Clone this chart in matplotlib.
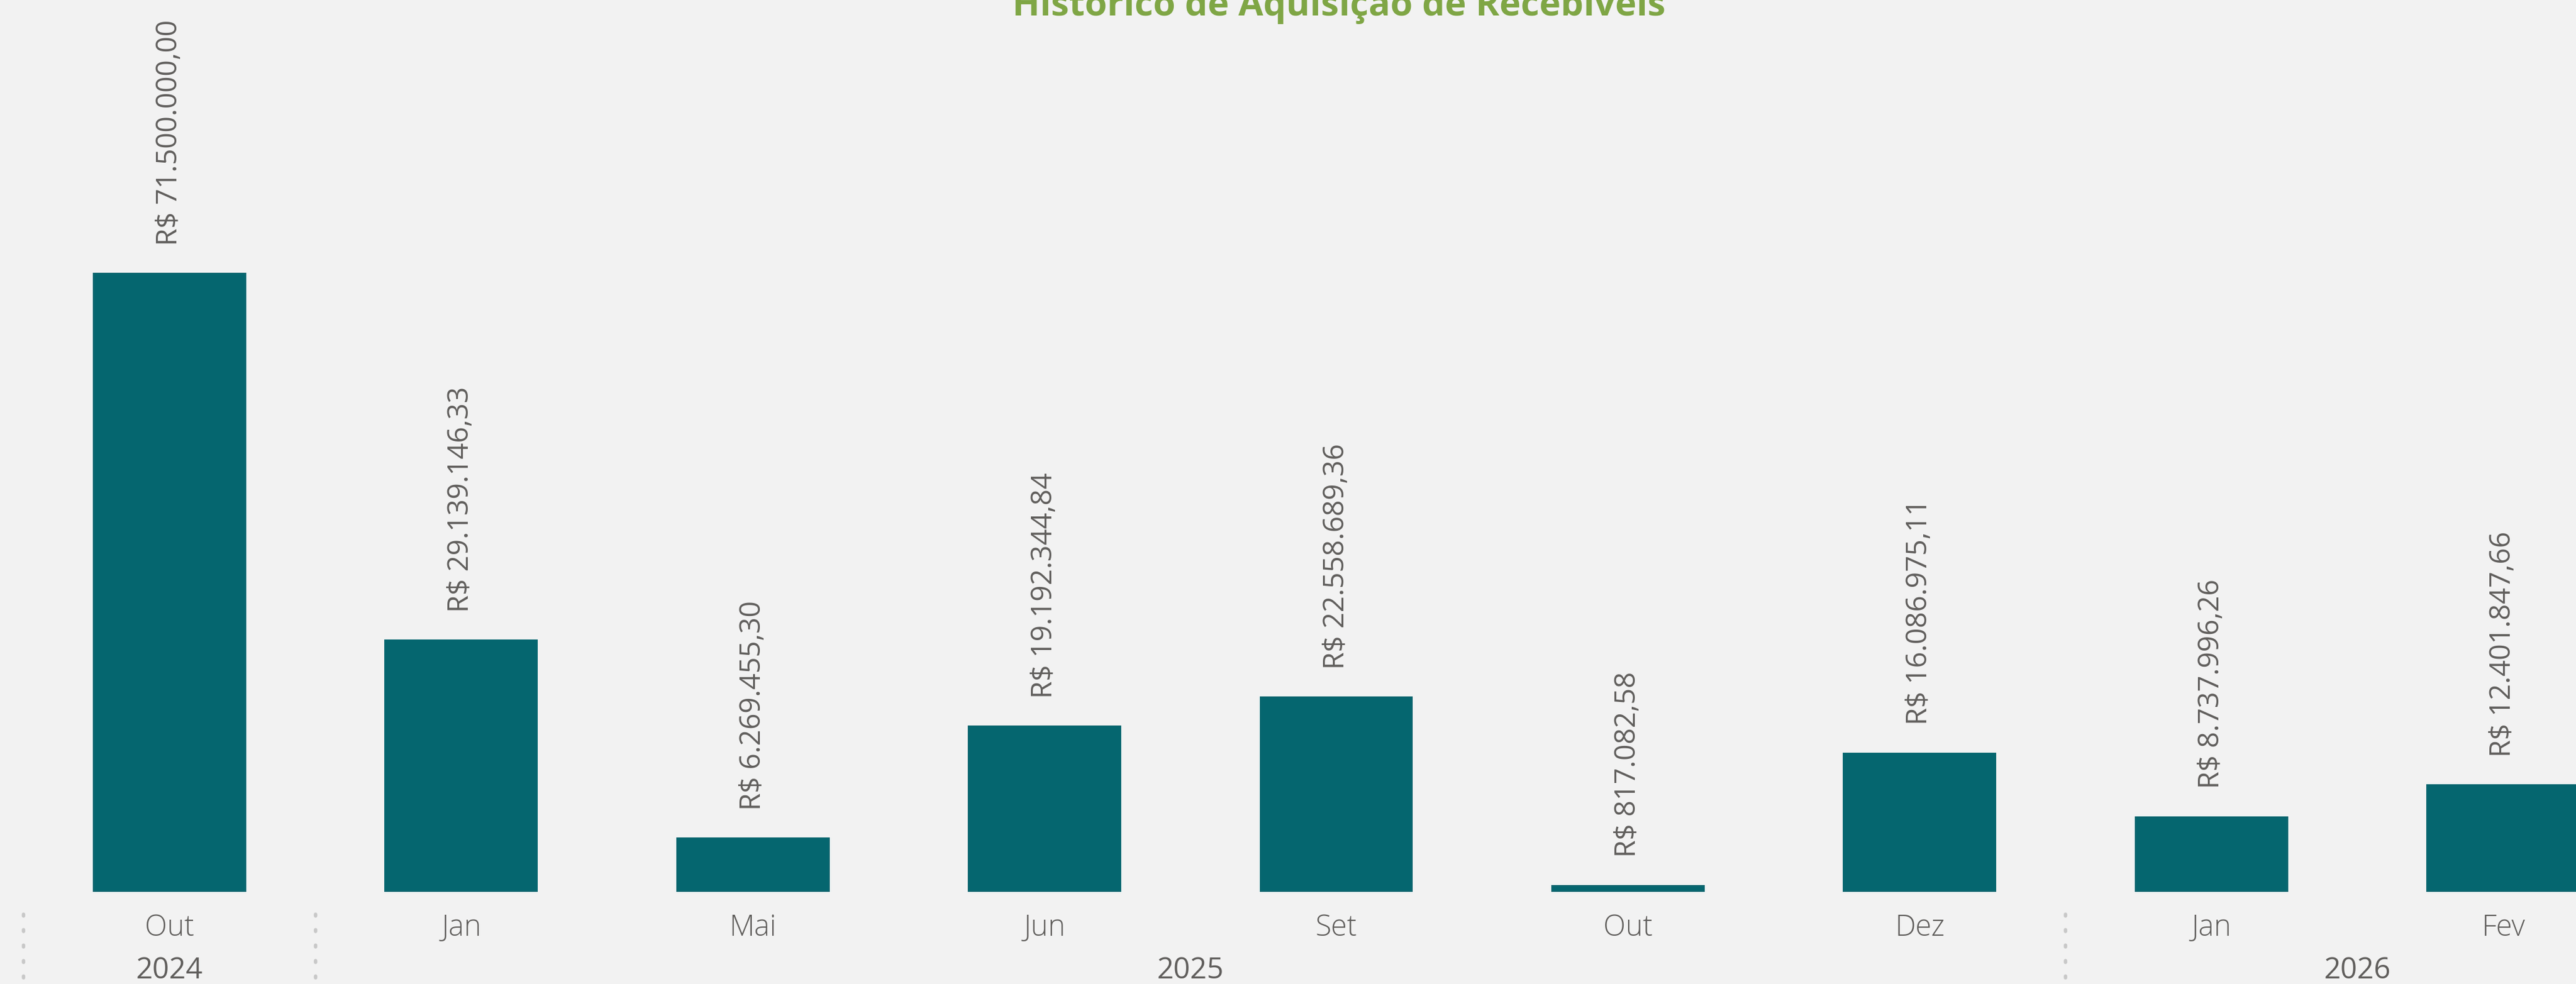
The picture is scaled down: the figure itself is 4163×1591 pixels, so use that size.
import matplotlib.pyplot as plt

# dados
meses = ["Out", "Jan", "Mai", "Jun", "Set", "Out", "Dez", "Jan", "Fev"]
valores = [71500000.00, 29139146.33, 6269455.30, 19192344.84, 22558689.36,
           817082.58, 16086975.11, 8737996.26, 12401847.66]
anos = ["2024", "2025", "2026"]
anos_pos = [0, 3.5, 7.5]
separadores = [-0.5, 0.5, 6.5]

bg = "#F2F2F2"
cor_barra = "#05666F"
cor_texto = "#605E5C"
cor_titulo = "#7FA645"

plt.rcParams["font.family"] = ["Open Sans", "DejaVu Sans"]


def brl(v):
    s = f"{v:,.2f}".replace(",", "X").replace(".", ",").replace("X", ".")
    return "R$ " + s


fig = plt.figure(figsize=(41.63, 15.91), dpi=100)
fig.patch.set_facecolor(bg)
ax = fig.add_axes([0, 0, 1, 1])
ax.set_facecolor(bg)

x = list(range(len(meses)))
ax.bar(x, valores, width=0.526, color=cor_barra)

for i, v in zip(x, valores):
    ax.annotate(brl(v), xy=(i, v), xytext=(0, 32), textcoords="offset points",
                rotation=90, ha="center", va="bottom", fontsize=33,
                color=cor_texto)

ax.set_xlim(-0.581, 8.25)
ax.set_ylim(-10.64e6, 103.0e6)

tr = ax.get_xaxis_transform()
for i, m in zip(x, meses):
    ax.text(i, 0.049, m, transform=tr, ha="center", va="baseline",
            fontsize=34, color=cor_texto, fontweight="light")
for p, a in zip(anos_pos, anos):
    ax.text(p, 0.0057, a, transform=tr, ha="center", va="baseline",
            fontsize=34, color=cor_texto)
for s in separadores:
    ax.plot([s, s], [0.006, 0.082], transform=tr, color="#C8C8C8",
            linestyle=(0, (0.5, 4)), linewidth=4, dash_capstyle="round",
            clip_on=False)

ax.text(0.5198, 1 - 25 / 1591, "Histórico de Aquisição de Recebíveis",
        transform=ax.transAxes, ha="center", va="baseline", fontsize=42,
        fontweight="bold", color=cor_titulo)

ax.axis("off")
fig.savefig("out.png", dpi=100, facecolor=bg)
